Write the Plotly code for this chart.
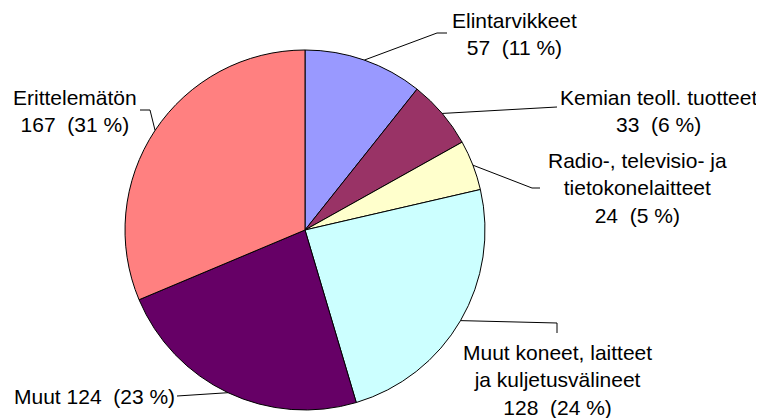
import math
import plotly.graph_objects as go

# The page body has an 8px margin, so the figure is offset by 8px.
OFF = 8
W, H = 764 - OFF, 418 - OFF

categories = ["Elintarvikkeet", "Kemian teoll. tuotteet",
              "Radio-, televisio- ja tietokonelaitteet",
              "Muut koneet, laitteet ja kuljetusvälineet",
              "Muut", "Erittelemätön"]
values = [57, 33, 24, 128, 124, 167]
colors = ["#9999FF", "#993366", "#FFFFCC", "#CCFFFF", "#660066", "#FF8080"]

NB = "\u00a0"
total = sum(values)
pct = [round(v / total * 100) for v in values]
label_texts = [
    f"Elintarvikkeet<br>{values[0]}{NB}{NB}({pct[0]}{NB}%)",
    f"Kemian teoll. tuotteet<br>{values[1]}{NB}{NB}({pct[1]}{NB}%)",
    f"Radio-, televisio- ja<br>tietokonelaitteet<br>{values[2]}{NB}{NB}({pct[2]}{NB}%)",
    f"Muut koneet, laitteet<br>ja kuljetusvälineet<br>{values[3]}{NB}{NB}({pct[3]}{NB}%)",
    f"Muut {values[4]}{NB}{NB}({pct[4]}{NB}%)",
    f"Erittelemätön<br>{values[5]}{NB}{NB}({pct[5]}{NB}%)",
]

# layout: pie centre / radius in page pixels
CX, CY, R = 305, 230, 180
# label centres (px) and leader-line elbow points (px)
label_pos = [(514, 34), (658, 111), (637, 188), (557, 380), (94, 396), (75, 111)]
leader_paths = [
    [(437, 33), (447, 33)],
    [(557, 107)],
    [(532, 188), (540, 188)],
    [(557, 323), (557, 333)],
    [(177, 396)],
    [(150, 110), (140, 110)],
]


def px(x):
    return (x - OFF) / W


def py(y):
    return 1 - (y - OFF) / H


fig = go.Figure(go.Pie(
    labels=categories, values=values, sort=False, direction="clockwise",
    rotation=0, textinfo="none", hoverinfo="label+value+percent",
    marker=dict(colors=colors, line=dict(color="black", width=1)),
    domain=dict(x=[px(CX - R), px(CX + R)], y=[py(CY + R), py(CY - R)]),
    showlegend=False,
))

shapes = []
annotations = []
cum = 0
for i, v in enumerate(values):
    mid = (cum + v / 2) / total * 2 * math.pi
    cum += v
    sx = CX + R * math.sin(mid)
    sy = CY - R * math.cos(mid)
    pts = [(sx, sy)] + leader_paths[i]
    for (x0, y0), (x1, y1) in zip(pts[:-1], pts[1:]):
        shapes.append(dict(type="line", xref="paper", yref="paper",
                           x0=px(x0), y0=py(y0), x1=px(x1), y1=py(y1),
                           line=dict(color="black", width=1)))
    lx, ly = label_pos[i]
    annotations.append(dict(
        text=label_texts[i], x=px(lx), y=py(ly), xref="paper", yref="paper",
        xanchor="center", yanchor="middle", showarrow=False,
        align="center", font=dict(family="Liberation Sans, Arial", size=21, color="black"),
    ))

fig.update_layout(
    width=W, height=H, margin=dict(l=0, r=0, t=0, b=0),
    paper_bgcolor="white", plot_bgcolor="white",
    shapes=shapes, annotations=annotations,
)

fig.write_html("out.html")
